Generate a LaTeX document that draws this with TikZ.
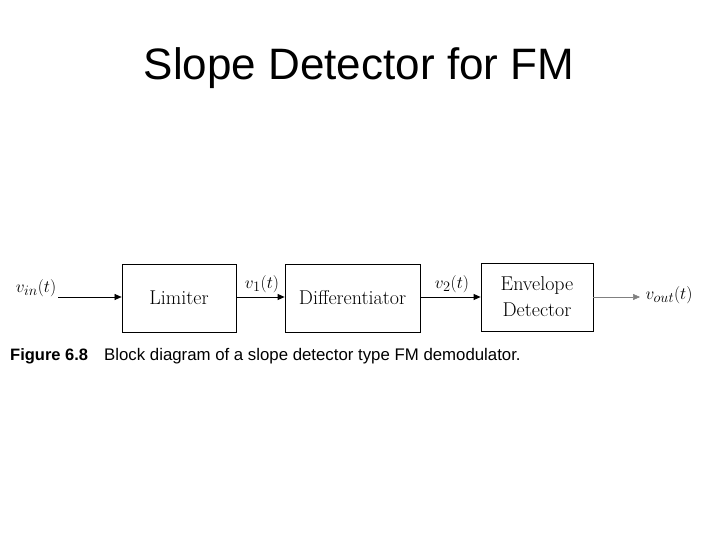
\documentclass[tikz,border=0pt]{standalone}
\usepackage{fontspec}
\newfontfamily\arial{Liberation Sans}
\usetikzlibrary{arrows.meta}
\begin{document}
\begin{tikzpicture}[x=1pt,y=-1pt,
  blk/.style={draw,line width=0.8pt,inner sep=0pt,font=\fontsize{20}{22}\selectfont,align=center},
  sig/.style={-{Triangle[length=7pt,width=6pt]},line width=0.8pt},
  lbl/.style={font=\fontsize{19}{21}\selectfont}]
\useasboundingbox (0,0) rectangle (720,540);
\node[font=\arial\fontsize{44}{48}\selectfont] (title) at (359,68) {Slope Detector for FM};
\node[blk,minimum width=114pt,minimum height=68pt] (lim) at (179,298) {Limiter};
\node[blk,minimum width=135pt,minimum height=68pt] (dif) at (352.5,298) {Differentiator};
\node[blk,minimum width=112pt,minimum height=68pt] (env) at (537,297) {Envelope\\[4pt]Detector};
\coordinate (in) at (58,297);
\coordinate (out) at (640,297);
\draw[sig,line width=0.5pt] (in) -- (lim.west|-in);
\draw[sig] (lim.east|-in) -- (dif.west|-in);
\draw[sig] (dif.east|-in) -- (env.west|-in);
\draw[sig,line width=0.5pt,gray] (env.east|-out) -- (out);
\node[lbl] (lin) at (36,288) {$v_{in}(t)$};
\node[lbl] (l1) at (262,284) {$v_1(t)$};
\node[lbl] (l2) at (452,284) {$v_2(t)$};
\node[lbl,anchor=west] (lout) at (642,295) {$v_{out}(t)$};
\node[anchor=west,inner sep=0pt,font=\arial\bfseries\fontsize{16.5}{18}\selectfont] (fig) at (10,356) {Figure 6.8};
\node[anchor=west,inner sep=0pt,font=\arial\fontsize{16.8}{18}\selectfont] (cap) at (104,356) {Block diagram of a slope detector type FM demodulator.};
\end{tikzpicture}
\end{document}
